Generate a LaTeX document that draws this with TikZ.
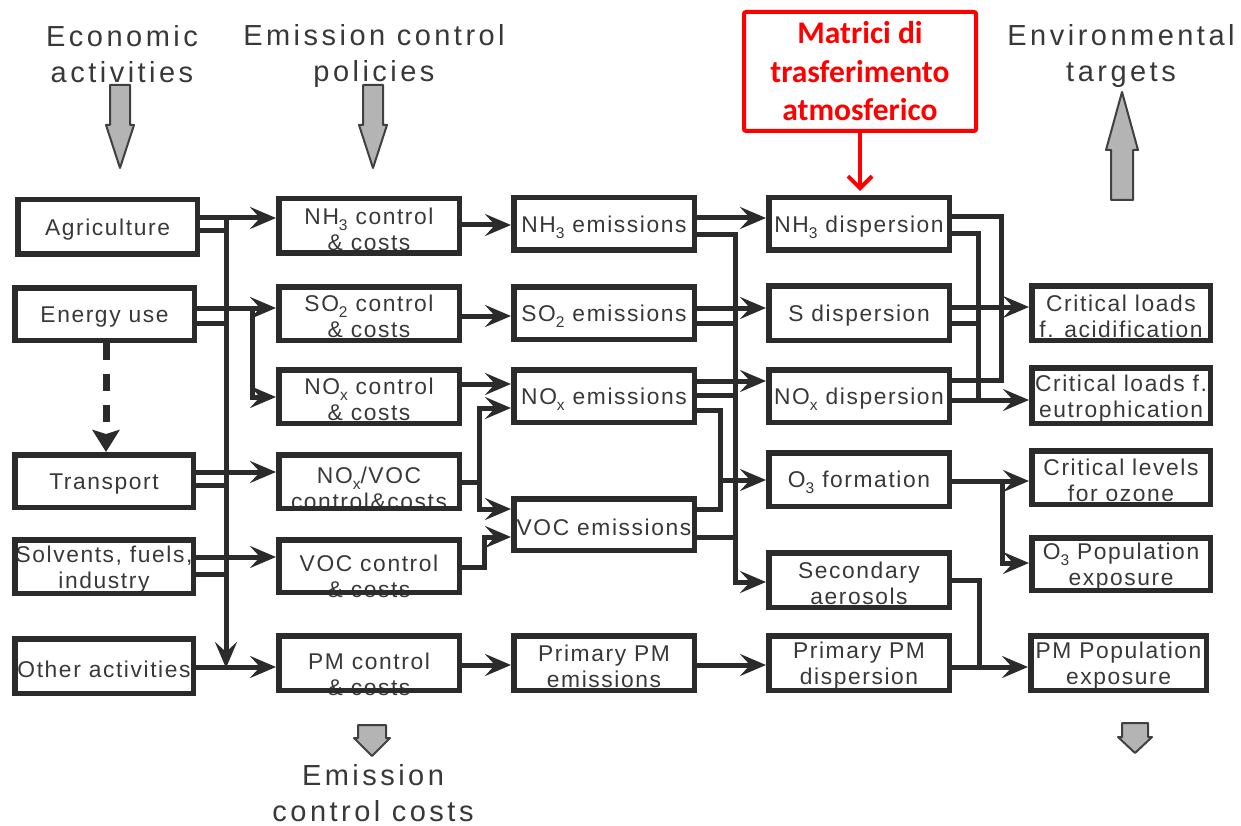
\documentclass[tikz,border=0pt]{standalone}
\usepackage{fontspec}
\setmainfont{Liberation Sans}
\newfontfamily\boxfont[LetterSpace=7]{Liberation Sans}
\newfontfamily\titlefont[LetterSpace=12]{Liberation Sans}
\newfontfamily\redfont{Carlito}
\usetikzlibrary{arrows.meta}
\definecolor{ink}{HTML}{2B2B2B}
\definecolor{inkt}{HTML}{383838}
\definecolor{arrfill}{HTML}{B4B4B4}
\definecolor{arrline}{HTML}{404040}
\definecolor{myred}{HTML}{FF0000}
\newcommand\subsc[1]{\raisebox{-6pt}{\fontsize{15.5}{15.5}\selectfont #1}}
\newcommand\mkbox[7]{%
  \node[lbl] (#1-t) at ({(#2+#4)/2},{(#3+#5)/2+#7+3}) {#6};
  \node[box, minimum width={#4pt-#2pt-5.5pt}, minimum height={#5pt-#3pt-5.5pt}] (#1) at ({(#2+#4)/2},{(#3+#5)/2}) {};
}
\tikzset{
  box/.style={draw=ink, line width=5.5pt, inner sep=0pt},
  lbl/.style={text=inkt, font=\boxfont\fontsize{22.8}{26}\selectfont, align=center, inner sep=0pt},
  ln/.style={draw=ink, line width=5pt},
  arr/.style={ln, -{Stealth[length=26pt,width=22pt,inset=10pt]}},
  dasharr/.style={draw=ink, line width=7pt, dash pattern=on 17pt off 14pt, -{Stealth[length=22pt,width=27pt,inset=4pt]}},
  title/.style={text=inkt, font=\titlefont\fontsize{29}{36}\selectfont, align=center, inner sep=0pt},
  blk/.style={fill=arrfill, draw=arrline, line width=2pt, line join=round},
  redbox/.style={draw=myred, line width=4pt, rounded corners=2pt, text=myred, align=center, inner sep=0pt,
    font=\redfont\bfseries\fontsize{31.5}{38.5}\selectfont},
  redarr/.style={draw=myred, line width=4pt, -{Straight Barb[length=12pt,width=24pt]}},
}
\begin{document}
\begin{tikzpicture}[x=1pt,y=-1pt]
\useasboundingbox (0,0) rectangle (1241,826);

% titles
\node[title] (t-econ) at (122,54) {Economic\\activities};
\node[title] (t-pol) at (374,56) {Emission control\\policies};
\node[title] (t-env) at (1121,56) {Environmental\\targets};
\node[title] (t-cost) at (373,793) {Emission\\control costs};

% gray block arrows
\draw[blk] (110,85) -- (130,85) -- (130,125) -- (134,125) -- (120,168) -- (106,125) -- (110,125) -- cycle;
\draw[blk] (363,85) -- (383,85) -- (383,125) -- (387,125) -- (373,168) -- (359,125) -- (363,125) -- cycle;
\draw[blk] (1111,200) -- (1133,200) -- (1133,150) -- (1138,150) -- (1122,92) -- (1106,150) -- (1111,150) -- cycle;
\draw[blk] (358,725) -- (386,725) -- (386,738) -- (390,738) -- (372,756) -- (354,738) -- (358,738) -- cycle;
\draw[blk] (1122,723) -- (1148,723) -- (1148,737) -- (1152,737) -- (1135,753) -- (1118,737) -- (1122,737) -- cycle;

% column 1
\mkbox{agr}{15}{197}{200}{257}{Agriculture}{0}
\mkbox{ene}{12}{285}{197}{343}{Energy use}{0}
\mkbox{tra}{12}{452}{196}{510}{Transport}{0}
\mkbox{sol}{12}{537}{196}{596}{Solvents, fuels,\\industry}{0}
\mkbox{oth}{12}{636}{196}{696}{Other activities}{0}
% column 2
\mkbox{nh3c}{276}{196}{462}{256}{NH\subsc{3} control\\\& costs}{0}
\mkbox{so2c}{276}{284}{462}{343}{SO\subsc{2} control\\\& costs}{0}
\mkbox{noxc}{276}{367}{462}{426}{NO\subsc{x} control\\\& costs}{0}
\mkbox{nvc}{276}{452}{462}{511}{NO\subsc{x}/VOC\\control\&costs}{4}
\mkbox{vocc}{276}{537}{462}{595}{VOC control\\\& costs}{7}
\mkbox{pmc}{276}{633}{462}{693}{PM control\\\& costs}{8}
% column 3
\mkbox{nh3e}{511}{195}{697}{253}{NH\subsc{3} emissions}{0}
\mkbox{so2e}{511}{284}{697}{342}{SO\subsc{2} emissions}{0}
\mkbox{noxe}{511}{367}{697}{425}{NO\subsc{x} emissions}{0}
\mkbox{voce}{511}{496}{697}{553}{VOC emissions}{0}
\mkbox{pme}{511}{633}{697}{693}{Primary PM\\emissions}{0}
% column 4
\mkbox{nh3d}{766}{195}{952}{253}{NH\subsc{3} dispersion}{0}
\mkbox{sd}{766}{283}{952}{343}{S dispersion}{0}
\mkbox{noxd}{766}{367}{952}{425}{NO\subsc{x} dispersion}{0}
\mkbox{o3f}{766}{450}{952}{509}{O\subsc{3} formation}{0}
\mkbox{sa}{766}{550}{952}{610}{Secondary\\aerosols}{0}
\mkbox{pmd}{766}{633}{952}{693}{Primary PM\\dispersion}{0}
% column 5
\mkbox{cla}{1029}{283}{1213}{343}{Critical loads\\f. acidification}{0}
\mkbox{cle}{1029}{365}{1213}{426}{Critical loads f.\\eutrophication}{0}
\mkbox{clo}{1029}{448}{1213}{507}{Critical levels\\for ozone}{0}
\mkbox{o3p}{1029}{535}{1213}{593}{O\subsc{3} Population\\exposure}{0}
\mkbox{pmp}{1028}{633}{1209}{693}{PM Population\\exposure}{0}

% red box
\node[redbox, minimum width=232pt, minimum height=119pt] (mat) at (860,71.5) {Matrici di\\trasferimento\\atmosferico};
\draw[redarr] (mat.south) -- ([yshift=4pt]mat.south |- nh3d.north);

% economic activities -> control
\draw[arr] (agr.east |- 0,218) -- (nh3c.west |- 0,218);
\draw[ln] (agr.east |- 0,231) -- (226,231);
\draw[arr] (226,215.5) -- (226,668);
\draw[arr] (ene.east |- 0,308) -- (so2c.west |- 0,308);
\draw[ln] (ene.east |- 0,323) -- (226,323);
\draw[arr] (252,305.5) |- (noxc.west |- 0,397);
\draw[dasharr] (ene.south -| 106,0) -- (tra.north -| 106,0);
\draw[arr] (tra.east |- 0,472) -- (nvc.west |- 0,472);
\draw[ln] (tra.east |- 0,485) -- (226,485);
\draw[arr] (sol.east |- 0,557) -- (vocc.west |- 0,557);
\draw[ln] (sol.east |- 0,574) -- (226,574);
\draw[arr] (oth.east |- 0,667) -- (pmc.west |- 0,667);

% control -> emissions
\draw[arr] (nh3c.east |- 0,225) -- (nh3e.west |- 0,225);
\draw[arr] (so2c.east |- 0,316) -- (so2e.west |- 0,316);
\draw[arr] (noxc.east |- 0,384) -- (noxe.west |- 0,384);
\draw[ln] (nvc.east |- 0,482) -- (479,482);
\draw[arr] (479,484) |- (noxe.west |- 0,408);
\draw[arr] (479,480) |- (voce.west |- 0,509);
\draw[arr] (vocc.east |- 0,567) -| (484,537) -- (voce.west |- 0,537);
\draw[arr] (pmc.east |- 0,665) -- (pme.west |- 0,665);

% emissions -> dispersion
\draw[arr] (nh3e.east |- 0,218) -- (nh3d.west |- 0,218);
\draw[arr] (nh3e.east |- 0,235) -| (735,582) -- (sa.west |- 0,582);
\draw[arr] (so2e.east |- 0,308) -- (sd.west |- 0,308);
\draw[ln] (so2e.east |- 0,323) -- (735,323);
\draw[arr] (noxe.east |- 0,381) -- (noxd.west |- 0,381);
\draw[ln] (noxe.east |- 0,395) -- (735,395);
\draw[ln] (noxe.east |- 0,410) -- (720,410) -- (720,509) -- (voce.east |- 0,509);
\draw[arr] (720,480) -- (o3f.west |- 0,480);
\draw[ln] (voce.east |- 0,537) -- (735,537);
\draw[arr] (pme.east |- 0,665) -- (pmd.west |- 0,665);

% dispersion -> targets
\draw[ln] (nh3d.east |- 0,217) -- (1001,217) -- (1001,380) -- (noxd.east |- 0,380);
\draw[arr] (sd.east |- 0,307) -- (cla.west |- 0,307);
\draw[ln] (nh3d.east |- 0,234) -- (978,234) -- (978,400);
\draw[ln] (sd.east |- 0,323) -- (978,323);
\draw[arr] (noxd.east |- 0,400) -- (cle.west |- 0,400);
\draw[arr] (o3f.east |- 0,481) -- (clo.west |- 0,481);
\draw[arr] (1002,478.5) |- (o3p.west |- 0,563);
\draw[ln] (sa.east |- 0,580) -- (979,580) -- (979,667);
\draw[arr] (pmd.east |- 0,667) -- (pmp.west |- 0,667);
\end{tikzpicture}
\end{document}
